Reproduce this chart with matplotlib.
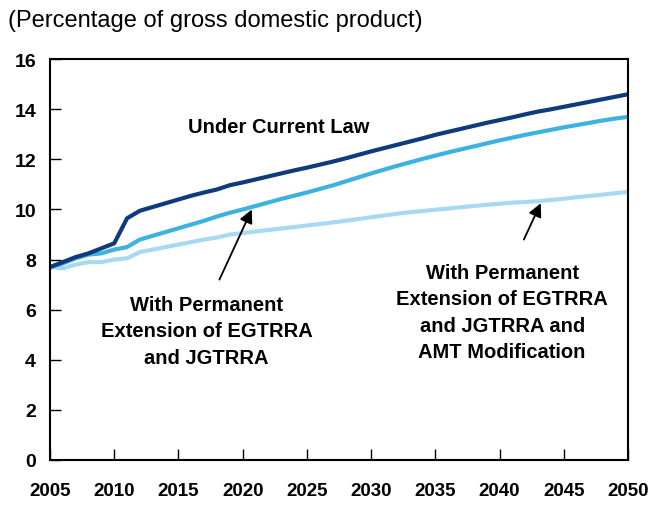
import matplotlib.pyplot as plt

plt.rcParams['font.family'] = ['Liberation Sans', 'DejaVu Sans']

years = list(range(2005, 2051))

current_law = [7.7, 7.9, 8.1, 8.25, 8.45, 8.65, 9.65, 9.95, 10.1, 10.25,
               10.4, 10.55, 10.68, 10.8, 10.97, 11.08, 11.2, 11.32, 11.44, 11.56,
               11.67, 11.79, 11.91, 12.04, 12.18, 12.32, 12.45, 12.58, 12.71, 12.84,
               12.98, 13.1, 13.22, 13.34, 13.46, 13.57, 13.68, 13.8, 13.91, 14.0,
               14.1, 14.2, 14.3, 14.4, 14.5, 14.6]

extension = [7.7, 7.85, 8.05, 8.2, 8.25, 8.4, 8.5, 8.8, 8.95, 9.1,
             9.25, 9.4, 9.55, 9.72, 9.87, 10.0, 10.14, 10.28, 10.42, 10.55,
             10.68, 10.82, 10.96, 11.12, 11.28, 11.44, 11.59, 11.74, 11.88, 12.02,
             12.15, 12.28, 12.4, 12.52, 12.64, 12.76, 12.87, 12.98, 13.08, 13.18,
             13.28, 13.37, 13.46, 13.55, 13.63, 13.7]

extension_amt = [7.7, 7.65, 7.8, 7.9, 7.9, 8.0, 8.05, 8.3, 8.4, 8.5,
                 8.6, 8.7, 8.8, 8.88, 9.0, 9.06, 9.12, 9.18, 9.24, 9.3,
                 9.36, 9.42, 9.48, 9.55, 9.62, 9.69, 9.76, 9.83, 9.89, 9.94,
                 9.99, 10.04, 10.09, 10.14, 10.19, 10.23, 10.27, 10.3, 10.33, 10.38,
                 10.43, 10.49, 10.54, 10.59, 10.65, 10.7]

fig = plt.figure(figsize=(6.52, 5.06), dpi=100)
ax = fig.add_axes([0.0767, 0.089, 0.8865, 0.792])

ax.plot(years, extension_amt, color='#a9d9f2', lw=3, solid_capstyle='butt')
ax.plot(years, extension, color='#3cb2e0', lw=3, solid_capstyle='butt')
ax.plot(years, current_law, color='#0e3b7c', lw=3, solid_capstyle='butt')

ax.set_xlim(2005, 2050)
ax.set_ylim(0, 16)
ax.set_xticks(range(2005, 2051, 5))
ax.set_yticks(range(0, 17, 2))
ax.tick_params(direction='in', length=8, width=1, labelsize=13.5)
ax.tick_params(axis='y', pad=10, labelsize=14)
ax.tick_params(axis='x', pad=16)
for lab in ax.get_xticklabels() + ax.get_yticklabels():
    lab.set_fontweight('bold')
for sp in ax.spines.values():
    sp.set_linewidth(1.5)

fig.text(0.012, 0.958, '(Percentage of gross domestic product)', fontsize=17,
         ha='left', va='center')

ax.text(2022.8, 13.3, 'Under Current Law', fontsize=14.5, fontweight='bold',
        ha='center', va='center')
ax.text(2017.2, 5.15, 'With Permanent\nExtension of EGTRRA\nand JGTRRA', fontsize=14.5,
        fontweight='bold', ha='center', va='center', linespacing=1.5)
ax.text(2040.2, 5.9, 'With Permanent\nExtension of EGTRRA\nand JGTRRA and\nAMT Modification',
        fontsize=14.5, fontweight='bold', ha='center', va='center', linespacing=1.5)

arrow = dict(arrowstyle='-|>', color='black', lw=1.3, mutation_scale=20)
ax.annotate('', xy=(2020.8, 10.1), xytext=(2018.1, 7.1), arrowprops=arrow)
ax.annotate('', xy=(2043.3, 10.35), xytext=(2041.8, 8.7), arrowprops=arrow)

fig.savefig('out.png', dpi=100)
